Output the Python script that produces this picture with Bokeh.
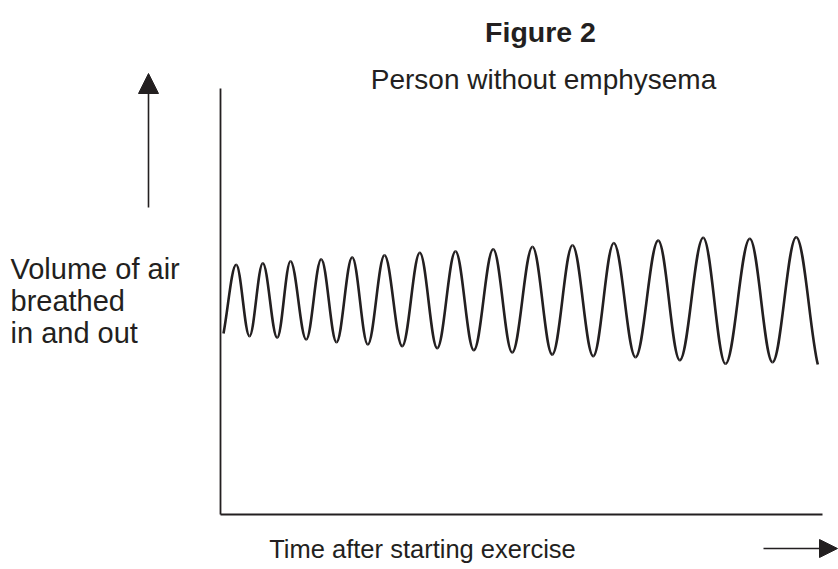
from bokeh.plotting import figure
from bokeh.models import Arrow, NormalHead, ColumnDataSource
from bokeh.core.properties import value
from bokeh.embed import file_html
from bokeh.resources import INLINE

# ---- data (time in arbitrary units, volume in arbitrary units) ----
start_time, start_vol = 3, 181
peak_times = [15.7, 42.3, 70, 100.7, 131.7, 164, 199.3, 235, 272.7, 312, 352, 393.3, 437.7, 482.7, 529.3, 575.7]
peak_vols = [249.7, 251.3, 253.3, 255.3, 257.3, 259.3, 261.7, 263.3, 265.3, 267.7, 269.3, 271.5, 274, 276.7, 275.7, 277.3]
trough_times = [29, 56.7, 85.7, 116, 147.3, 181.7, 216.7, 253.3, 291.7, 331.7, 372.7, 415, 459.3, 505, 552]
trough_vols = [178.3, 176.7, 175, 172.3, 170, 168.3, 166.3, 164.3, 162, 160, 158.3, 157.3, 154.3, 150.7, 152.3]
end_time, end_vol = 597.3, 150

x_axis_end = 602
y_axis_end = 426

title_text = "Figure 2"
subtitle_text = "Person without emphysema"
y_label_lines = ["Volume of air", "breathed", "in and out"]
x_label_text = "Time after starting exercise"

INK = "#231f20"
FONT = "Liberation Sans"

# ---- build alternating extrema sequence ----
ext_t = [start_time]
ext_v = [start_vol]
for i in range(len(peak_times)):
    ext_t.append(peak_times[i]); ext_v.append(peak_vols[i])
    if i < len(trough_times):
        ext_t.append(trough_times[i]); ext_v.append(trough_vols[i])
ext_t.append(end_time); ext_v.append(end_vol)

k = 0.36
x0, y0, x1, y1, cx0, cy0, cx1, cy1 = [], [], [], [], [], [], [], []
n = len(ext_t)
for i in range(n - 1):
    a, b = ext_t[i], ext_t[i + 1]
    va, vb = ext_v[i], ext_v[i + 1]
    dx = b - a
    x0.append(a); y0.append(va); x1.append(b); y1.append(vb)
    cx0.append(a + k * dx)
    cy0.append(va + (0.35 * (vb - va) if i == 0 else 0))
    cx1.append(b - k * dx)
    cy1.append(vb - (0.25 * (vb - va) if i == n - 2 else 0))
wave = ColumnDataSource(dict(x0=x0, y0=y0, x1=x1, y1=y1, cx0=cx0, cy0=cy0, cx1=cx1, cy1=cy1))

p = figure(width=838, height=569, x_range=(-220, 618), y_range=(-55, 514),
           output_backend="svg", toolbar_location=None,
           x_axis_location=None, y_axis_location=None, min_border=0)
p.outline_line_color = None
p.grid.visible = False
p.background_fill_color = "white"

# axes lines
p.line([0, 0], [0, y_axis_end], line_color=INK, line_width=1.8)
p.line([0, x_axis_end], [0, 0], line_color=INK, line_width=1.8)

# wave
p.bezier(x0="x0", y0="y0", x1="x1", y1="y1", cx0="cx0", cy0="cy0", cx1="cx1", cy1="cy1",
         source=wave, line_color=INK, line_width=2.6)

# arrows
p.add_layout(Arrow(x_start=-72, y_start=307, x_end=-72, y_end=441,
                   line_color=INK, line_width=1.6,
                   end=NormalHead(size=20, fill_color=INK, line_color=INK, line_width=1)))
p.add_layout(Arrow(x_start=543, y_start=-34, x_end=617, y_end=-34,
                   line_color=INK, line_width=1.6,
                   end=NormalHead(size=18, fill_color=INK, line_color=INK, line_width=1)))

# texts
p.text(x=[320], y=[483], text=[title_text], text_font=value(FONT), text_font_size=value("28.5px"),
       text_font_style="bold", text_align="center", text_baseline="alphabetic", text_color=INK)
p.text(x=[323], y=[435], text=[subtitle_text], text_font=value(FONT), text_font_size=value("28px"),
       text_align="center", text_baseline="alphabetic", text_color=INK)
p.text(x=[-210, -210, -210], y=[246, 214, 182], text=y_label_lines, text_font=value(FONT),
       text_font_size=value("29px"), text_align="left", text_baseline="alphabetic", text_color=INK)
p.text(x=[202], y=[-34], text=[x_label_text], text_font=value(FONT), text_font_size=value("25.5px"),
       text_align="center", text_baseline="alphabetic", text_color=INK)

open("out.html", "w").write(file_html(p, INLINE))
